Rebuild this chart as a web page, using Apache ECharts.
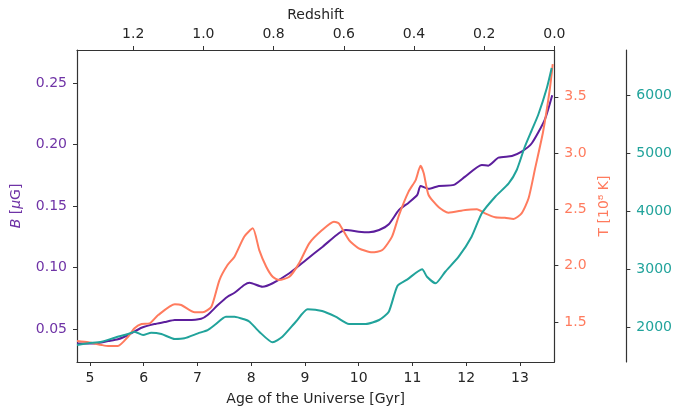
<!DOCTYPE html>
<html>
<head>
<meta charset="utf-8">
<script src="https://cdn.jsdelivr.net/npm/echarts@6/dist/echarts.min.js"></script>
<style>
  html, body { margin: 0; padding: 0; background: #fff; }
  #chart { width: 675px; height: 412px; }
</style>
</head>
<body>
<div id="chart"></div>
<script>
// Magnetic field strength B [μG] against cosmic age
const bAge = [4.76, 5.09, 5.34, 5.52, 5.71, 5.96, 6.20, 6.39, 6.58, 6.82, 7.07, 7.19, 7.38, 7.56, 7.69, 7.87, 7.97, 8.21, 8.40, 8.71, 9.02, 9.33, 9.63, 9.76, 10.00, 10.19, 10.38, 10.56, 10.75, 10.93, 11.09, 11.15, 11.30, 11.49, 11.77, 11.98, 12.29, 12.41, 12.60, 12.85, 13.03, 13.22, 13.46, 13.60];
const bVal = [0.0386, 0.0386, 0.0405, 0.0419, 0.0454, 0.0513, 0.0543, 0.0559, 0.0576, 0.0576, 0.0586, 0.0616, 0.0697, 0.0765, 0.0797, 0.0860, 0.0878, 0.0846, 0.0874, 0.0955, 0.1063, 0.1171, 0.1280, 0.1306, 0.1293, 0.1288, 0.1306, 0.1353, 0.1469, 0.1528, 0.1591, 0.1664, 0.1640, 0.1664, 0.1672, 0.1739, 0.1834, 0.1828, 0.1893, 0.1907, 0.1942, 0.2010, 0.2200, 0.2400];

// Temperature T [10^8 K]
const tAge = [4.76, 4.97, 5.22, 5.34, 5.52, 5.71, 5.83, 5.96, 6.11, 6.27, 6.58, 6.70, 6.95, 7.10, 7.26, 7.41, 7.56, 7.69, 7.87, 8.03, 8.15, 8.28, 8.40, 8.52, 8.71, 8.89, 9.08, 9.32, 9.54, 9.63, 9.82, 10.00, 10.25, 10.44, 10.62, 10.75, 10.93, 11.06, 11.15, 11.21, 11.30, 11.49, 11.67, 11.98, 12.20, 12.35, 12.54, 12.72, 12.88, 13.03, 13.16, 13.28, 13.43, 13.55, 13.61];
const tVal = [1.331, 1.320, 1.296, 1.287, 1.287, 1.369, 1.444, 1.482, 1.488, 1.562, 1.657, 1.651, 1.586, 1.586, 1.636, 1.873, 2.006, 2.080, 2.258, 2.332, 2.139, 1.991, 1.902, 1.873, 1.902, 2.021, 2.199, 2.317, 2.391, 2.377, 2.228, 2.155, 2.119, 2.139, 2.258, 2.450, 2.660, 2.761, 2.888, 2.821, 2.628, 2.519, 2.471, 2.495, 2.501, 2.465, 2.430, 2.426, 2.415, 2.465, 2.599, 2.860, 3.190, 3.550, 3.790];

// Third quantity, on the outer right axis
const tealAge = [4.76, 4.97, 5.22, 5.46, 5.71, 5.83, 5.99, 6.14, 6.33, 6.58, 6.76, 7.01, 7.19, 7.32, 7.53, 7.69, 7.87, 7.97, 8.15, 8.40, 8.58, 8.83, 9.05, 9.32, 9.57, 9.82, 10.13, 10.38, 10.56, 10.72, 10.90, 11.18, 11.27, 11.43, 11.61, 11.86, 12.10, 12.29, 12.54, 12.79, 12.94, 13.09, 13.22, 13.34, 13.50, 13.59];
const tealVal = [1702, 1731, 1759, 1828, 1891, 1931, 1874, 1914, 1891, 1805, 1817, 1903, 1960, 2047, 2190, 2190, 2145, 2103, 1931, 1748, 1845, 2103, 2317, 2288, 2190, 2064, 2064, 2133, 2276, 2720, 2830, 3007, 2879, 2765, 2965, 3224, 3569, 3972, 4258, 4489, 4719, 5120, 5408, 5672, 6132, 6477];

// Tick positions
const ageTicks = [5, 6, 7, 8, 9, 10, 11, 12, 13];
const redshiftTicks = [0.0, 0.2, 0.4, 0.6, 0.8, 1.0, 1.2];
const bTicks = [0.05, 0.10, 0.15, 0.20, 0.25];
const tTicks = [1.5, 2.0, 2.5, 3.0, 3.5];
const tealTicks = [2000, 3000, 4000, 5000, 6000];

const PURPLE = '#5c1e9c';
const PURPLE_TXT = '#6f33a6';
const SALMON = '#ff7b5e';
const TEAL = '#21a39b';
const INK = '#333333';
const TXT = '#262626';
const FONT = 'DejaVu Sans';
const FS = 14;

const zip = (xs, ys) => xs.map((x, i) => [x, ys[i]]);

function axisBase(color, ticks, fmt, margin) {
  return {
    axisLine: { show: true, onZero: false, lineStyle: { color: INK, width: 1.2 } },
    axisTick: { show: true, length: 4, lineStyle: { color: INK, width: 1 }, customValues: ticks },
    axisLabel: { color: color, fontFamily: FONT, fontSize: FS, margin: margin, customValues: ticks, formatter: fmt },
    splitLine: { show: false }
  };
}

const chart = echarts.init(document.getElementById('chart'), null, { renderer: 'canvas' });
chart.setOption({
  animation: false,
  backgroundColor: '#ffffff',
  grid: { left: 77, right: 119, top: 50, bottom: 50, containLabel: false },
  xAxis: [
    Object.assign(axisBase(TXT, ageTicks, v => String(Math.round(v)), 9), {
      type: 'value', position: 'bottom', min: 4.76, max: 13.64,
      name: 'Age of the Universe [Gyr]', nameLocation: 'middle', nameGap: 30,
      nameTextStyle: { color: TXT, fontFamily: FONT, fontSize: FS }
    }),
    Object.assign(axisBase(TXT, redshiftTicks, v => v.toFixed(1), 9), {
      type: 'value', position: 'top', inverse: true, min: 0, max: 1.36,
      name: 'Redshift', nameLocation: 'middle', nameGap: 28,
      nameTextStyle: { color: TXT, fontFamily: FONT, fontSize: FS }
    })
  ],
  yAxis: [
    Object.assign(axisBase(PURPLE_TXT, bTicks, v => v.toFixed(2), 10), {
      type: 'value', position: 'left', min: 0.0235, max: 0.2767,
      name: '{i|B} [{i|μ}G]', nameLocation: 'middle', nameGap: 54, nameRotate: 90,
      nameTextStyle: {
        color: PURPLE_TXT, fontFamily: FONT, fontSize: FS,
        rich: { i: { fontStyle: 'italic', color: PURPLE_TXT, fontFamily: FONT, fontSize: FS } }
      }
    }),
    Object.assign(axisBase(SALMON, tTicks, v => v.toFixed(1), 10), {
      type: 'value', position: 'right', min: 1.145, max: 3.916,
      name: 'T [10⁸ K]', nameLocation: 'middle', nameGap: 43, nameRotate: 90,
      nameTextStyle: { color: SALMON, fontFamily: FONT, fontSize: FS }
    }),
    Object.assign(axisBase(TEAL, tealTicks, v => String(Math.round(v)), 10), {
      type: 'value', position: 'right', offset: 72, min: 1409, max: 6788
    })
  ],
  series: [
    {
      type: 'line', xAxisIndex: 0, yAxisIndex: 0, data: zip(bAge, bVal),
      showSymbol: false, smooth: 0.2, lineStyle: { color: PURPLE, width: 2 }, z: 2
    },
    {
      type: 'line', xAxisIndex: 0, yAxisIndex: 1, data: zip(tAge, tVal),
      showSymbol: false, smooth: 0.2, lineStyle: { color: SALMON, width: 2 }, z: 3
    },
    {
      type: 'line', xAxisIndex: 0, yAxisIndex: 2, data: zip(tealAge, tealVal),
      showSymbol: false, smooth: 0.2, lineStyle: { color: TEAL, width: 2 }, z: 4
    }
  ]
});
</script>
</body>
</html>
